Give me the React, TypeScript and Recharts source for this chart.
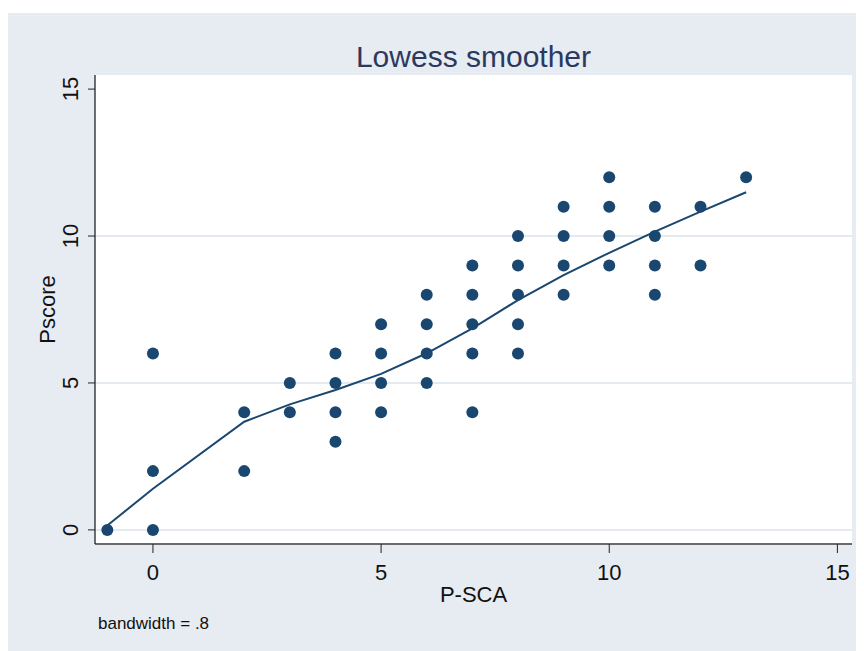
import {
  ComposedChart,
  Scatter,
  Line,
  XAxis,
  YAxis,
  CartesianGrid,
} from 'recharts'

// observed P-SCA / Pscore pairs
const pscaValues = [
  -1,
  0, 0, 0,
  2, 2,
  3, 3,
  4, 4, 4, 4,
  5, 5, 5, 5,
  6, 6, 6, 6,
  7, 7, 7, 7, 7,
  8, 8, 8, 8, 8,
  9, 9, 9, 9,
  10, 10, 10, 10,
  11, 11, 11, 11,
  12, 12,
  13,
]
const pscoreValues = [
  0,
  6, 2, 0,
  4, 2,
  5, 4,
  6, 5, 4, 3,
  7, 6, 5, 4,
  8, 7, 6, 5,
  9, 8, 7, 6, 4,
  10, 9, 8, 7, 6,
  11, 10, 9, 8,
  12, 11, 10, 9,
  11, 10, 9, 8,
  11, 9,
  12,
]

// lowess fit at each distinct x
const lowessX = [-1, 0, 2, 3, 4, 5, 6, 7, 8, 9, 10, 11, 12, 13]
const lowessY = [0.15, 1.4, 3.68, 4.27, 4.76, 5.31, 6.01, 6.86, 7.82, 8.67, 9.43, 10.15, 10.83, 11.49]

const xTicks = [0, 5, 10, 15]
const yTicks = [0, 5, 10, 15]
const gridValues = [0, 5, 10]

const points = pscaValues.map((x, i) => ({ x, y: pscoreValues[i] }))
const smooth = lowessX.map((x, i) => ({ x, y: lowessY[i] }))

const navy = '#1a476f'
const font = '"Liberation Sans", Arial, Helvetica, sans-serif'

const YTick = (props: any) => {
  const { x, y, payload } = props
  return (
    <text
      x={x}
      y={y}
      transform={`rotate(-90 ${x} ${y})`}
      textAnchor="middle"
      fontSize={22}
      fontFamily={font}
      fill="#111"
    >
      {payload.value}
    </text>
  )
}

export default function App() {
  return (
    <div
      style={{
        position: 'relative',
        width: 856,
        height: 638,
        marginTop: 5,
        background: '#e7ebf2',
        fontFamily: font,
      }}
    >
      <div
        style={{
          position: 'absolute',
          left: 0,
          width: 931,
          top: 29,
          textAlign: 'center',
          fontSize: 30,
          color: '#2a3a5e',
          lineHeight: '30px',
        }}
      >
        Lowess smoother
      </div>
      <ComposedChart
        width={856}
        height={638}
        margin={{ top: 62, right: 12, bottom: 77, left: 47 }}
        style={{ position: 'absolute', left: 0, top: 0 }}
      >
        <CartesianGrid
          vertical={false}
          horizontalValues={gridValues}
          stroke="#dde3ec"
          strokeWidth={1.5}
          fill="#fff"
          fillOpacity={1}
        />
        <XAxis
          type="number"
          dataKey="x"
          domain={[-1.27, 15.32]}
          allowDataOverflow
          ticks={xTicks}
          interval={0}
          height={30}
          tickSize={9}
          tickMargin={11}
          axisLine={{ stroke: '#6a6a6a', strokeWidth: 2 }}
          tickLine={{ stroke: '#222' }}
          tick={{ fontSize: 22, fill: '#111', fontFamily: font }}
          label={{
            content: ({ viewBox }: any) => (
              <text
                x={viewBox.x + viewBox.width / 2}
                y={viewBox.y + 58}
                textAnchor="middle"
                fontSize={22}
                fontFamily={font}
                fill="#111"
              >
                P-SCA
              </text>
            ),
          }}
        />
        <YAxis
          type="number"
          dataKey="y"
          domain={[-0.48, 15.48]}
          allowDataOverflow
          ticks={yTicks}
          interval={0}
          width={40}
          tickSize={7}
          tickMargin={10}
          axisLine={{ stroke: '#111', strokeWidth: 1.2 }}
          tickLine={{ stroke: '#222' }}
          tick={<YTick />}
          label={{
            content: ({ viewBox }: any) => {
              const cx = 47
              const cy = viewBox.y + viewBox.height / 2
              return (
                <text
                  x={cx}
                  y={cy}
                  transform={`rotate(-90 ${cx} ${cy})`}
                  textAnchor="middle"
                  fontSize={22}
                  fontFamily={font}
                  fill="#111"
                >
                  Pscore
                </text>
              )
            },
          }}
        />
        <Scatter
          data={points}
          fill={navy}
          isAnimationActive={false}
          shape={(p: any) => <circle cx={p.cx} cy={p.cy} r={6} fill={navy} />}
        />
        <Line
          data={smooth}
          dataKey="y"
          type="linear"
          stroke={navy}
          strokeWidth={2}
          dot={false}
          activeDot={false}
          isAnimationActive={false}
        />
      </ComposedChart>
      <div
        style={{
          position: 'absolute',
          left: 90,
          top: 602,
          fontSize: 17,
          lineHeight: '17px',
          color: '#111',
        }}
      >
        bandwidth = .8
      </div>
    </div>
  )
}
